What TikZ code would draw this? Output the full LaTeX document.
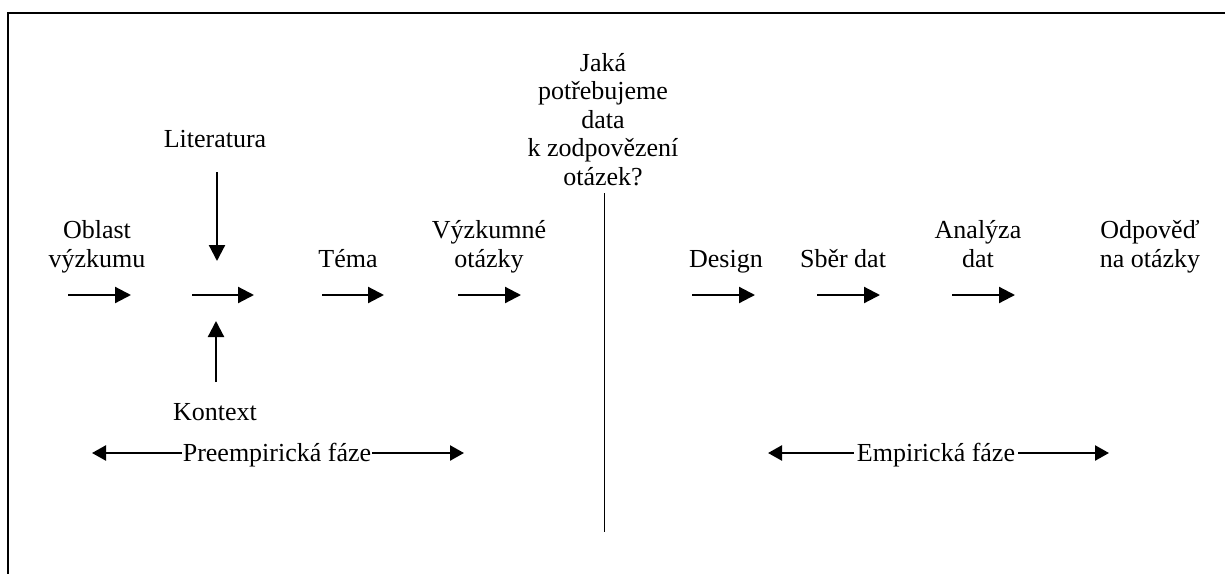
\documentclass[tikz,border=0pt]{standalone}
\usepackage{fontspec}
\setmainfont{Liberation Serif}
\usetikzlibrary{arrows.meta}
\tikzset{
  lbl/.style={anchor=base, inner sep=0pt, align=center, font=\fontsize{26}{28.5}\selectfont},
  flow/.style={line width=2.2pt, -{Triangle[length=16pt,width=16pt]}},
  phase/.style={line width=2.4pt, -{Triangle[length=14pt,width=15pt]}},
  frame/.style={line width=2pt},
  divider/.style={line width=1.9pt}
}
\begin{document}
\begin{tikzpicture}[x=1pt,y=-1pt]
  \useasboundingbox (0,0) rectangle (1225,573);
  % open frame: only the top and left edges fall inside the page
  \coordinate (ftr) at (1226,13);
  \coordinate (ftl) at (7.5,13);
  \coordinate (fbl) at (7.5,574);
  \draw[frame] (ftr) -- (ftl) -- (fbl);

  % labels (multi-line labels are placed by the baseline of their last line)
  \node[lbl] (lit)    at (215,147) {Literatura};
  \node[lbl] (obl)    at (97,267)  {Oblast\\výzkumu};
  \node[lbl] (tema)   at (348,267) {Téma};
  \node[lbl] (vyz)    at (489,267) {Výzkumné\\otázky};
  \node[lbl] (jaka)   at (603,185) {Jaká\\potřebujeme\\data\\k zodpovězení\\otázek?};
  \node[lbl] (design) at (726,267) {Design};
  \node[lbl] (sber)   at (843,267) {Sběr dat};
  \node[lbl] (anal)   at (978,267) {Analýza\\dat};
  \node[lbl] (odp)    at (1150,267){Odpověď\\na otázky};
  \node[lbl] (kon)    at (215,420) {Kontext};
  \node[lbl, inner xsep=1pt] (pre) at (277,461) {Preempirická fáze};
  \node[lbl, inner xsep=3pt] (emp) at (936,461) {Empirická fáze};

  % end points of the process arrows
  \coordinate (a1s) at (68,295);   \coordinate (a1e) at (131,295);
  \coordinate (a2s) at (192,295);  \coordinate (a2e) at (254,295);
  \coordinate (a3s) at (322,295);  \coordinate (a3e) at (384,295);
  \coordinate (a4s) at (458,295);  \coordinate (a4e) at (521,295);
  \coordinate (a5s) at (692,295);  \coordinate (a5e) at (755,295);
  \coordinate (a6s) at (817,295);  \coordinate (a6e) at (880,295);
  \coordinate (a7s) at (952,295);  \coordinate (a7e) at (1015,295);
  \coordinate (dns) at (217,172);  \coordinate (dne) at (217,261);
  \coordinate (ups) at (216,382);  \coordinate (upe) at (216,321);

  \draw[flow] (a1s) -- (a1e);
  \draw[flow] (a2s) -- (a2e);
  \draw[flow] (a3s) -- (a3e);
  \draw[flow] (a4s) -- (a4e);
  \draw[flow] (a5s) -- (a5e);
  \draw[flow] (a6s) -- (a6e);
  \draw[flow] (a7s) -- (a7e);
  \draw[flow] (dns) -- (dne);
  \draw[flow] (ups) -- (upe);

  % divider between the two phases
  \coordinate (dvt) at (604.5,193);
  \coordinate (dvb) at (604.5,532);
  \draw[divider] (dvt) -- (dvb);

  % phase spans
  \coordinate (prel) at (92,453);  \coordinate (prer) at (464,453);
  \coordinate (empl) at (768,453); \coordinate (empr) at (1109,453);
  \draw[phase] (pre.west |- prel) -- (prel);
  \draw[phase] (pre.east |- prer) -- (prer);
  \draw[phase] (emp.west |- empl) -- (empl);
  \draw[phase] (emp.east |- empr) -- (empr);
\end{tikzpicture}
\end{document}
